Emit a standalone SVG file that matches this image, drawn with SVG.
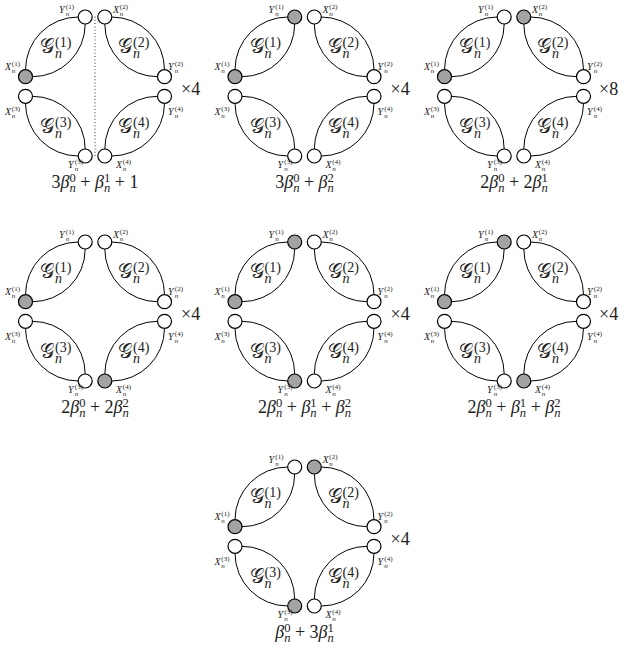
<svg xmlns="http://www.w3.org/2000/svg" xmlns:xlink="http://www.w3.org/1999/xlink" width="624" height="653" viewBox="0 0 624 653">
<style>
circle{stroke:#000;stroke-width:1.2}
.w{fill:#fff}
.g{fill:#a3a3a3}
.arc{fill:none;stroke:#000;stroke-width:1}
.dot{stroke:#444;stroke-width:1.1;stroke-dasharray:1 2.3}
text{font-family:"Liberation Serif","DejaVu Serif",serif;fill:#222}
.lv{font-size:10px;font-style:italic}
.li{font-size:7px;font-style:italic}
.lr{font-size:7px}
.G{font-size:20px;font-family:"DejaVu Serif","DejaVu Sans",serif}
.gi{font-size:14px;font-style:italic}
.gr{font-size:14px}
.f{font-size:18px;text-anchor:middle}
.it{font-style:italic}
.sc{font-size:12.6px}
.m{font-size:18px}
</style>
<defs>
<g id="arcs">
<path class="arc" d="M-69.5,-16.8A52.7,52.7 0 0 1 -16.8,-69.5M-62.5,-9.8A52.7,52.7 0 0 0 -9.8,-62.5"/>
<path class="arc" d="M16.8,-69.5A52.7,52.7 0 0 1 69.5,-16.8M9.8,-62.5A52.7,52.7 0 0 0 62.5,-9.8"/>
<path class="arc" d="M-69.5,16.8A52.7,52.7 0 0 0 -16.8,69.5M-62.5,9.8A52.7,52.7 0 0 1 -9.8,62.5"/>
<path class="arc" d="M16.8,69.5A52.7,52.7 0 0 0 69.5,16.8M9.8,62.5A52.7,52.7 0 0 1 62.5,9.8"/>
</g>
</defs>

<!-- Row 1, diagram 1 -->
<g id="r1c1" transform="translate(95,86.5)">
<g id="r1c1-connectors"><use xlink:href="#arcs" href="#arcs"/><line class="dot" x1="0" y1="-70" x2="0" y2="70"/></g>
<text><tspan class="G" x="-55" y="-33.5">𝒢</tspan><tspan class="gi" x="-40" y="-28.5">n</tspan><tspan class="gr" x="-40" y="-39.5">(1)</tspan></text>
<text><tspan class="G" x="23" y="-33.5">𝒢</tspan><tspan class="gi" x="38" y="-28.5">n</tspan><tspan class="gr" x="38" y="-39.5">(2)</tspan></text>
<text><tspan class="G" x="-55" y="46">𝒢</tspan><tspan class="gi" x="-40" y="51">n</tspan><tspan class="gr" x="-40" y="40">(3)</tspan></text>
<text><tspan class="G" x="23" y="46">𝒢</tspan><tspan class="gi" x="38" y="51">n</tspan><tspan class="gr" x="38" y="40">(4)</tspan></text>
<g id="r1c1-Y1"><circle class="w" cx="-9.8" cy="-69.5" r="7"/><text><tspan class="lv" x="-36" y="-73.5">Y</tspan><tspan class="li" x="-29.2" y="-71">n</tspan><tspan class="lr" x="-29.2" y="-77.5">(1)</tspan></text></g>
<g id="r1c1-X2"><circle class="w" cx="9.8" cy="-69.5" r="7"/><text><tspan class="lv" x="18" y="-73.5">X</tspan><tspan class="li" x="24.8" y="-71">n</tspan><tspan class="lr" x="24.8" y="-77.5">(2)</tspan></text></g>
<g id="r1c1-X1"><circle class="g" cx="-69.5" cy="-9.8" r="7"/><text><tspan class="lv" x="-90" y="-16.5">X</tspan><tspan class="li" x="-83.2" y="-14">n</tspan><tspan class="lr" x="-83.2" y="-20.5">(1)</tspan></text></g>
<g id="r1c1-Y2"><circle class="w" cx="69.5" cy="-9.8" r="7"/><text><tspan class="lv" x="73" y="-16.5">Y</tspan><tspan class="li" x="79.8" y="-14">n</tspan><tspan class="lr" x="79.8" y="-20.5">(2)</tspan></text></g>
<g id="r1c1-X3"><circle class="w" cx="-69.5" cy="9.8" r="7"/><text><tspan class="lv" x="-90" y="28.5">X</tspan><tspan class="li" x="-83.2" y="31">n</tspan><tspan class="lr" x="-83.2" y="24.5">(3)</tspan></text></g>
<g id="r1c1-Y4"><circle class="w" cx="69.5" cy="9.8" r="7"/><text><tspan class="lv" x="73" y="28.5">Y</tspan><tspan class="li" x="79.8" y="31">n</tspan><tspan class="lr" x="79.8" y="24.5">(4)</tspan></text></g>
<g id="r1c1-Y3"><circle class="w" cx="-9.8" cy="69.5" r="7"/><text><tspan class="lv" x="-27" y="81.5">Y</tspan><tspan class="li" x="-20.2" y="84">n</tspan><tspan class="lr" x="-20.2" y="77.5">(3)</tspan></text></g>
<g id="r1c1-X4"><circle class="w" cx="9.8" cy="69.5" r="7"/><text><tspan class="lv" x="21" y="81.5">X</tspan><tspan class="li" x="27.8" y="84">n</tspan><tspan class="lr" x="27.8" y="77.5">(4)</tspan></text></g>
<text class="m" x="86" y="8.5">×4</text>
<text class="f" x="0" y="101.5">3<tspan class="it">β</tspan><tspan class="sc" dy="-6.5">0</tspan><tspan class="sc it" dx="-6.3" dy="10.5">n</tspan><tspan dy="-4"> + </tspan><tspan class="it">β</tspan><tspan class="sc" dy="-6.5">1</tspan><tspan class="sc it" dx="-6.3" dy="10.5">n</tspan><tspan dy="-4"> + 1</tspan></text>
</g>

<!-- Row 1, diagram 2 -->
<g id="r1c2" transform="translate(304.5,86.5)">
<g id="r1c2-connectors"><use xlink:href="#arcs" href="#arcs"/></g>
<text><tspan class="G" x="-55" y="-33.5">𝒢</tspan><tspan class="gi" x="-40" y="-28.5">n</tspan><tspan class="gr" x="-40" y="-39.5">(1)</tspan></text>
<text><tspan class="G" x="23" y="-33.5">𝒢</tspan><tspan class="gi" x="38" y="-28.5">n</tspan><tspan class="gr" x="38" y="-39.5">(2)</tspan></text>
<text><tspan class="G" x="-55" y="46">𝒢</tspan><tspan class="gi" x="-40" y="51">n</tspan><tspan class="gr" x="-40" y="40">(3)</tspan></text>
<text><tspan class="G" x="23" y="46">𝒢</tspan><tspan class="gi" x="38" y="51">n</tspan><tspan class="gr" x="38" y="40">(4)</tspan></text>
<g id="r1c2-Y1"><circle class="g" cx="-9.8" cy="-69.5" r="7"/><text><tspan class="lv" x="-36" y="-73.5">Y</tspan><tspan class="li" x="-29.2" y="-71">n</tspan><tspan class="lr" x="-29.2" y="-77.5">(1)</tspan></text></g>
<g id="r1c2-X2"><circle class="w" cx="9.8" cy="-69.5" r="7"/><text><tspan class="lv" x="18" y="-73.5">X</tspan><tspan class="li" x="24.8" y="-71">n</tspan><tspan class="lr" x="24.8" y="-77.5">(2)</tspan></text></g>
<g id="r1c2-X1"><circle class="g" cx="-69.5" cy="-9.8" r="7"/><text><tspan class="lv" x="-90" y="-16.5">X</tspan><tspan class="li" x="-83.2" y="-14">n</tspan><tspan class="lr" x="-83.2" y="-20.5">(1)</tspan></text></g>
<g id="r1c2-Y2"><circle class="w" cx="69.5" cy="-9.8" r="7"/><text><tspan class="lv" x="73" y="-16.5">Y</tspan><tspan class="li" x="79.8" y="-14">n</tspan><tspan class="lr" x="79.8" y="-20.5">(2)</tspan></text></g>
<g id="r1c2-X3"><circle class="w" cx="-69.5" cy="9.8" r="7"/><text><tspan class="lv" x="-90" y="28.5">X</tspan><tspan class="li" x="-83.2" y="31">n</tspan><tspan class="lr" x="-83.2" y="24.5">(3)</tspan></text></g>
<g id="r1c2-Y4"><circle class="w" cx="69.5" cy="9.8" r="7"/><text><tspan class="lv" x="73" y="28.5">Y</tspan><tspan class="li" x="79.8" y="31">n</tspan><tspan class="lr" x="79.8" y="24.5">(4)</tspan></text></g>
<g id="r1c2-Y3"><circle class="w" cx="-9.8" cy="69.5" r="7"/><text><tspan class="lv" x="-27" y="81.5">Y</tspan><tspan class="li" x="-20.2" y="84">n</tspan><tspan class="lr" x="-20.2" y="77.5">(3)</tspan></text></g>
<g id="r1c2-X4"><circle class="w" cx="9.8" cy="69.5" r="7"/><text><tspan class="lv" x="21" y="81.5">X</tspan><tspan class="li" x="27.8" y="84">n</tspan><tspan class="lr" x="27.8" y="77.5">(4)</tspan></text></g>
<text class="m" x="86" y="8.5">×4</text>
<text class="f" x="0" y="101.5">3<tspan class="it">β</tspan><tspan class="sc" dy="-6.5">0</tspan><tspan class="sc it" dx="-6.3" dy="10.5">n</tspan><tspan dy="-4"> + </tspan><tspan class="it">β</tspan><tspan class="sc" dy="-6.5">2</tspan><tspan class="sc it" dx="-6.3" dy="10.5">n</tspan></text>
</g>

<!-- Row 1, diagram 3 -->
<g id="r1c3" transform="translate(514,86.5)">
<g id="r1c3-connectors"><use xlink:href="#arcs" href="#arcs"/></g>
<text><tspan class="G" x="-55" y="-33.5">𝒢</tspan><tspan class="gi" x="-40" y="-28.5">n</tspan><tspan class="gr" x="-40" y="-39.5">(1)</tspan></text>
<text><tspan class="G" x="23" y="-33.5">𝒢</tspan><tspan class="gi" x="38" y="-28.5">n</tspan><tspan class="gr" x="38" y="-39.5">(2)</tspan></text>
<text><tspan class="G" x="-55" y="46">𝒢</tspan><tspan class="gi" x="-40" y="51">n</tspan><tspan class="gr" x="-40" y="40">(3)</tspan></text>
<text><tspan class="G" x="23" y="46">𝒢</tspan><tspan class="gi" x="38" y="51">n</tspan><tspan class="gr" x="38" y="40">(4)</tspan></text>
<g id="r1c3-Y1"><circle class="w" cx="-9.8" cy="-69.5" r="7"/><text><tspan class="lv" x="-36" y="-73.5">Y</tspan><tspan class="li" x="-29.2" y="-71">n</tspan><tspan class="lr" x="-29.2" y="-77.5">(1)</tspan></text></g>
<g id="r1c3-X2"><circle class="g" cx="9.8" cy="-69.5" r="7"/><text><tspan class="lv" x="18" y="-73.5">X</tspan><tspan class="li" x="24.8" y="-71">n</tspan><tspan class="lr" x="24.8" y="-77.5">(2)</tspan></text></g>
<g id="r1c3-X1"><circle class="g" cx="-69.5" cy="-9.8" r="7"/><text><tspan class="lv" x="-90" y="-16.5">X</tspan><tspan class="li" x="-83.2" y="-14">n</tspan><tspan class="lr" x="-83.2" y="-20.5">(1)</tspan></text></g>
<g id="r1c3-Y2"><circle class="w" cx="69.5" cy="-9.8" r="7"/><text><tspan class="lv" x="73" y="-16.5">Y</tspan><tspan class="li" x="79.8" y="-14">n</tspan><tspan class="lr" x="79.8" y="-20.5">(2)</tspan></text></g>
<g id="r1c3-X3"><circle class="w" cx="-69.5" cy="9.8" r="7"/><text><tspan class="lv" x="-90" y="28.5">X</tspan><tspan class="li" x="-83.2" y="31">n</tspan><tspan class="lr" x="-83.2" y="24.5">(3)</tspan></text></g>
<g id="r1c3-Y4"><circle class="w" cx="69.5" cy="9.8" r="7"/><text><tspan class="lv" x="73" y="28.5">Y</tspan><tspan class="li" x="79.8" y="31">n</tspan><tspan class="lr" x="79.8" y="24.5">(4)</tspan></text></g>
<g id="r1c3-Y3"><circle class="w" cx="-9.8" cy="69.5" r="7"/><text><tspan class="lv" x="-27" y="81.5">Y</tspan><tspan class="li" x="-20.2" y="84">n</tspan><tspan class="lr" x="-20.2" y="77.5">(3)</tspan></text></g>
<g id="r1c3-X4"><circle class="w" cx="9.8" cy="69.5" r="7"/><text><tspan class="lv" x="21" y="81.5">X</tspan><tspan class="li" x="27.8" y="84">n</tspan><tspan class="lr" x="27.8" y="77.5">(4)</tspan></text></g>
<text class="m" x="85" y="8.5">×8</text>
<text class="f" x="0" y="101.5">2<tspan class="it">β</tspan><tspan class="sc" dy="-6.5">0</tspan><tspan class="sc it" dx="-6.3" dy="10.5">n</tspan><tspan dy="-4"> + 2</tspan><tspan class="it">β</tspan><tspan class="sc" dy="-6.5">1</tspan><tspan class="sc it" dx="-6.3" dy="10.5">n</tspan></text>
</g>

<!-- Row 2, diagram 1 -->
<g id="r2c1" transform="translate(95,311.5)">
<g id="r2c1-connectors"><use xlink:href="#arcs" href="#arcs"/></g>
<text><tspan class="G" x="-55" y="-33.5">𝒢</tspan><tspan class="gi" x="-40" y="-28.5">n</tspan><tspan class="gr" x="-40" y="-39.5">(1)</tspan></text>
<text><tspan class="G" x="23" y="-33.5">𝒢</tspan><tspan class="gi" x="38" y="-28.5">n</tspan><tspan class="gr" x="38" y="-39.5">(2)</tspan></text>
<text><tspan class="G" x="-55" y="46">𝒢</tspan><tspan class="gi" x="-40" y="51">n</tspan><tspan class="gr" x="-40" y="40">(3)</tspan></text>
<text><tspan class="G" x="23" y="46">𝒢</tspan><tspan class="gi" x="38" y="51">n</tspan><tspan class="gr" x="38" y="40">(4)</tspan></text>
<g id="r2c1-Y1"><circle class="w" cx="-9.8" cy="-69.5" r="7"/><text><tspan class="lv" x="-36" y="-73.5">Y</tspan><tspan class="li" x="-29.2" y="-71">n</tspan><tspan class="lr" x="-29.2" y="-77.5">(1)</tspan></text></g>
<g id="r2c1-X2"><circle class="w" cx="9.8" cy="-69.5" r="7"/><text><tspan class="lv" x="18" y="-73.5">X</tspan><tspan class="li" x="24.8" y="-71">n</tspan><tspan class="lr" x="24.8" y="-77.5">(2)</tspan></text></g>
<g id="r2c1-X1"><circle class="g" cx="-69.5" cy="-9.8" r="7"/><text><tspan class="lv" x="-90" y="-16.5">X</tspan><tspan class="li" x="-83.2" y="-14">n</tspan><tspan class="lr" x="-83.2" y="-20.5">(1)</tspan></text></g>
<g id="r2c1-Y2"><circle class="w" cx="69.5" cy="-9.8" r="7"/><text><tspan class="lv" x="73" y="-16.5">Y</tspan><tspan class="li" x="79.8" y="-14">n</tspan><tspan class="lr" x="79.8" y="-20.5">(2)</tspan></text></g>
<g id="r2c1-X3"><circle class="w" cx="-69.5" cy="9.8" r="7"/><text><tspan class="lv" x="-90" y="28.5">X</tspan><tspan class="li" x="-83.2" y="31">n</tspan><tspan class="lr" x="-83.2" y="24.5">(3)</tspan></text></g>
<g id="r2c1-Y4"><circle class="w" cx="69.5" cy="9.8" r="7"/><text><tspan class="lv" x="73" y="28.5">Y</tspan><tspan class="li" x="79.8" y="31">n</tspan><tspan class="lr" x="79.8" y="24.5">(4)</tspan></text></g>
<g id="r2c1-Y3"><circle class="w" cx="-9.8" cy="69.5" r="7"/><text><tspan class="lv" x="-27" y="81.5">Y</tspan><tspan class="li" x="-20.2" y="84">n</tspan><tspan class="lr" x="-20.2" y="77.5">(3)</tspan></text></g>
<g id="r2c1-X4"><circle class="g" cx="9.8" cy="69.5" r="7"/><text><tspan class="lv" x="21" y="81.5">X</tspan><tspan class="li" x="27.8" y="84">n</tspan><tspan class="lr" x="27.8" y="77.5">(4)</tspan></text></g>
<text class="m" x="86" y="8.5">×4</text>
<text class="f" x="0" y="101.5">2<tspan class="it">β</tspan><tspan class="sc" dy="-6.5">0</tspan><tspan class="sc it" dx="-6.3" dy="10.5">n</tspan><tspan dy="-4"> + 2</tspan><tspan class="it">β</tspan><tspan class="sc" dy="-6.5">2</tspan><tspan class="sc it" dx="-6.3" dy="10.5">n</tspan></text>
</g>

<!-- Row 2, diagram 2 -->
<g id="r2c2" transform="translate(304.5,311.5)">
<g id="r2c2-connectors"><use xlink:href="#arcs" href="#arcs"/></g>
<text><tspan class="G" x="-55" y="-33.5">𝒢</tspan><tspan class="gi" x="-40" y="-28.5">n</tspan><tspan class="gr" x="-40" y="-39.5">(1)</tspan></text>
<text><tspan class="G" x="23" y="-33.5">𝒢</tspan><tspan class="gi" x="38" y="-28.5">n</tspan><tspan class="gr" x="38" y="-39.5">(2)</tspan></text>
<text><tspan class="G" x="-55" y="46">𝒢</tspan><tspan class="gi" x="-40" y="51">n</tspan><tspan class="gr" x="-40" y="40">(3)</tspan></text>
<text><tspan class="G" x="23" y="46">𝒢</tspan><tspan class="gi" x="38" y="51">n</tspan><tspan class="gr" x="38" y="40">(4)</tspan></text>
<g id="r2c2-Y1"><circle class="g" cx="-9.8" cy="-69.5" r="7"/><text><tspan class="lv" x="-36" y="-73.5">Y</tspan><tspan class="li" x="-29.2" y="-71">n</tspan><tspan class="lr" x="-29.2" y="-77.5">(1)</tspan></text></g>
<g id="r2c2-X2"><circle class="w" cx="9.8" cy="-69.5" r="7"/><text><tspan class="lv" x="18" y="-73.5">X</tspan><tspan class="li" x="24.8" y="-71">n</tspan><tspan class="lr" x="24.8" y="-77.5">(2)</tspan></text></g>
<g id="r2c2-X1"><circle class="g" cx="-69.5" cy="-9.8" r="7"/><text><tspan class="lv" x="-90" y="-16.5">X</tspan><tspan class="li" x="-83.2" y="-14">n</tspan><tspan class="lr" x="-83.2" y="-20.5">(1)</tspan></text></g>
<g id="r2c2-Y2"><circle class="w" cx="69.5" cy="-9.8" r="7"/><text><tspan class="lv" x="73" y="-16.5">Y</tspan><tspan class="li" x="79.8" y="-14">n</tspan><tspan class="lr" x="79.8" y="-20.5">(2)</tspan></text></g>
<g id="r2c2-X3"><circle class="w" cx="-69.5" cy="9.8" r="7"/><text><tspan class="lv" x="-90" y="28.5">X</tspan><tspan class="li" x="-83.2" y="31">n</tspan><tspan class="lr" x="-83.2" y="24.5">(3)</tspan></text></g>
<g id="r2c2-Y4"><circle class="w" cx="69.5" cy="9.8" r="7"/><text><tspan class="lv" x="73" y="28.5">Y</tspan><tspan class="li" x="79.8" y="31">n</tspan><tspan class="lr" x="79.8" y="24.5">(4)</tspan></text></g>
<g id="r2c2-Y3"><circle class="g" cx="-9.8" cy="69.5" r="7"/><text><tspan class="lv" x="-27" y="81.5">Y</tspan><tspan class="li" x="-20.2" y="84">n</tspan><tspan class="lr" x="-20.2" y="77.5">(3)</tspan></text></g>
<g id="r2c2-X4"><circle class="w" cx="9.8" cy="69.5" r="7"/><text><tspan class="lv" x="21" y="81.5">X</tspan><tspan class="li" x="27.8" y="84">n</tspan><tspan class="lr" x="27.8" y="77.5">(4)</tspan></text></g>
<text class="m" x="86" y="8.5">×4</text>
<text class="f" x="0" y="101.5">2<tspan class="it">β</tspan><tspan class="sc" dy="-6.5">0</tspan><tspan class="sc it" dx="-6.3" dy="10.5">n</tspan><tspan dy="-4"> + </tspan><tspan class="it">β</tspan><tspan class="sc" dy="-6.5">1</tspan><tspan class="sc it" dx="-6.3" dy="10.5">n</tspan><tspan dy="-4"> + </tspan><tspan class="it">β</tspan><tspan class="sc" dy="-6.5">2</tspan><tspan class="sc it" dx="-6.3" dy="10.5">n</tspan></text>
</g>

<!-- Row 2, diagram 3 -->
<g id="r2c3" transform="translate(514,311.5)">
<g id="r2c3-connectors"><use xlink:href="#arcs" href="#arcs"/></g>
<text><tspan class="G" x="-55" y="-33.5">𝒢</tspan><tspan class="gi" x="-40" y="-28.5">n</tspan><tspan class="gr" x="-40" y="-39.5">(1)</tspan></text>
<text><tspan class="G" x="23" y="-33.5">𝒢</tspan><tspan class="gi" x="38" y="-28.5">n</tspan><tspan class="gr" x="38" y="-39.5">(2)</tspan></text>
<text><tspan class="G" x="-55" y="46">𝒢</tspan><tspan class="gi" x="-40" y="51">n</tspan><tspan class="gr" x="-40" y="40">(3)</tspan></text>
<text><tspan class="G" x="23" y="46">𝒢</tspan><tspan class="gi" x="38" y="51">n</tspan><tspan class="gr" x="38" y="40">(4)</tspan></text>
<g id="r2c3-Y1"><circle class="g" cx="-9.8" cy="-69.5" r="7"/><text><tspan class="lv" x="-36" y="-73.5">Y</tspan><tspan class="li" x="-29.2" y="-71">n</tspan><tspan class="lr" x="-29.2" y="-77.5">(1)</tspan></text></g>
<g id="r2c3-X2"><circle class="w" cx="9.8" cy="-69.5" r="7"/><text><tspan class="lv" x="18" y="-73.5">X</tspan><tspan class="li" x="24.8" y="-71">n</tspan><tspan class="lr" x="24.8" y="-77.5">(2)</tspan></text></g>
<g id="r2c3-X1"><circle class="g" cx="-69.5" cy="-9.8" r="7"/><text><tspan class="lv" x="-90" y="-16.5">X</tspan><tspan class="li" x="-83.2" y="-14">n</tspan><tspan class="lr" x="-83.2" y="-20.5">(1)</tspan></text></g>
<g id="r2c3-Y2"><circle class="w" cx="69.5" cy="-9.8" r="7"/><text><tspan class="lv" x="73" y="-16.5">Y</tspan><tspan class="li" x="79.8" y="-14">n</tspan><tspan class="lr" x="79.8" y="-20.5">(2)</tspan></text></g>
<g id="r2c3-X3"><circle class="w" cx="-69.5" cy="9.8" r="7"/><text><tspan class="lv" x="-90" y="28.5">X</tspan><tspan class="li" x="-83.2" y="31">n</tspan><tspan class="lr" x="-83.2" y="24.5">(3)</tspan></text></g>
<g id="r2c3-Y4"><circle class="w" cx="69.5" cy="9.8" r="7"/><text><tspan class="lv" x="73" y="28.5">Y</tspan><tspan class="li" x="79.8" y="31">n</tspan><tspan class="lr" x="79.8" y="24.5">(4)</tspan></text></g>
<g id="r2c3-Y3"><circle class="w" cx="-9.8" cy="69.5" r="7"/><text><tspan class="lv" x="-27" y="81.5">Y</tspan><tspan class="li" x="-20.2" y="84">n</tspan><tspan class="lr" x="-20.2" y="77.5">(3)</tspan></text></g>
<g id="r2c3-X4"><circle class="g" cx="9.8" cy="69.5" r="7"/><text><tspan class="lv" x="21" y="81.5">X</tspan><tspan class="li" x="27.8" y="84">n</tspan><tspan class="lr" x="27.8" y="77.5">(4)</tspan></text></g>
<text class="m" x="85" y="8.5">×4</text>
<text class="f" x="0" y="101.5">2<tspan class="it">β</tspan><tspan class="sc" dy="-6.5">0</tspan><tspan class="sc it" dx="-6.3" dy="10.5">n</tspan><tspan dy="-4"> + </tspan><tspan class="it">β</tspan><tspan class="sc" dy="-6.5">1</tspan><tspan class="sc it" dx="-6.3" dy="10.5">n</tspan><tspan dy="-4"> + </tspan><tspan class="it">β</tspan><tspan class="sc" dy="-6.5">2</tspan><tspan class="sc it" dx="-6.3" dy="10.5">n</tspan></text>
</g>

<!-- Row 3 -->
<g id="r3c2" transform="translate(304.5,536.5)">
<g id="r3c2-connectors"><use xlink:href="#arcs" href="#arcs"/></g>
<text><tspan class="G" x="-55" y="-33.5">𝒢</tspan><tspan class="gi" x="-40" y="-28.5">n</tspan><tspan class="gr" x="-40" y="-39.5">(1)</tspan></text>
<text><tspan class="G" x="23" y="-33.5">𝒢</tspan><tspan class="gi" x="38" y="-28.5">n</tspan><tspan class="gr" x="38" y="-39.5">(2)</tspan></text>
<text><tspan class="G" x="-55" y="46">𝒢</tspan><tspan class="gi" x="-40" y="51">n</tspan><tspan class="gr" x="-40" y="40">(3)</tspan></text>
<text><tspan class="G" x="23" y="46">𝒢</tspan><tspan class="gi" x="38" y="51">n</tspan><tspan class="gr" x="38" y="40">(4)</tspan></text>
<g id="r3c2-Y1"><circle class="w" cx="-9.8" cy="-69.5" r="7"/><text><tspan class="lv" x="-36" y="-73.5">Y</tspan><tspan class="li" x="-29.2" y="-71">n</tspan><tspan class="lr" x="-29.2" y="-77.5">(1)</tspan></text></g>
<g id="r3c2-X2"><circle class="g" cx="9.8" cy="-69.5" r="7"/><text><tspan class="lv" x="18" y="-73.5">X</tspan><tspan class="li" x="24.8" y="-71">n</tspan><tspan class="lr" x="24.8" y="-77.5">(2)</tspan></text></g>
<g id="r3c2-X1"><circle class="g" cx="-69.5" cy="-9.8" r="7"/><text><tspan class="lv" x="-90" y="-16.5">X</tspan><tspan class="li" x="-83.2" y="-14">n</tspan><tspan class="lr" x="-83.2" y="-20.5">(1)</tspan></text></g>
<g id="r3c2-Y2"><circle class="w" cx="69.5" cy="-9.8" r="7"/><text><tspan class="lv" x="73" y="-16.5">Y</tspan><tspan class="li" x="79.8" y="-14">n</tspan><tspan class="lr" x="79.8" y="-20.5">(2)</tspan></text></g>
<g id="r3c2-X3"><circle class="w" cx="-69.5" cy="9.8" r="7"/><text><tspan class="lv" x="-90" y="28.5">X</tspan><tspan class="li" x="-83.2" y="31">n</tspan><tspan class="lr" x="-83.2" y="24.5">(3)</tspan></text></g>
<g id="r3c2-Y4"><circle class="w" cx="69.5" cy="9.8" r="7"/><text><tspan class="lv" x="73" y="28.5">Y</tspan><tspan class="li" x="79.8" y="31">n</tspan><tspan class="lr" x="79.8" y="24.5">(4)</tspan></text></g>
<g id="r3c2-Y3"><circle class="g" cx="-9.8" cy="69.5" r="7"/><text><tspan class="lv" x="-27" y="81.5">Y</tspan><tspan class="li" x="-20.2" y="84">n</tspan><tspan class="lr" x="-20.2" y="77.5">(3)</tspan></text></g>
<g id="r3c2-X4"><circle class="w" cx="9.8" cy="69.5" r="7"/><text><tspan class="lv" x="21" y="81.5">X</tspan><tspan class="li" x="27.8" y="84">n</tspan><tspan class="lr" x="27.8" y="77.5">(4)</tspan></text></g>
<text class="m" x="86" y="8.5">×4</text>
<text class="f" x="0" y="101.5"><tspan class="it">β</tspan><tspan class="sc" dy="-6.5">0</tspan><tspan class="sc it" dx="-6.3" dy="10.5">n</tspan><tspan dy="-4"> + 3</tspan><tspan class="it">β</tspan><tspan class="sc" dy="-6.5">1</tspan><tspan class="sc it" dx="-6.3" dy="10.5">n</tspan></text>
</g>
</svg>
